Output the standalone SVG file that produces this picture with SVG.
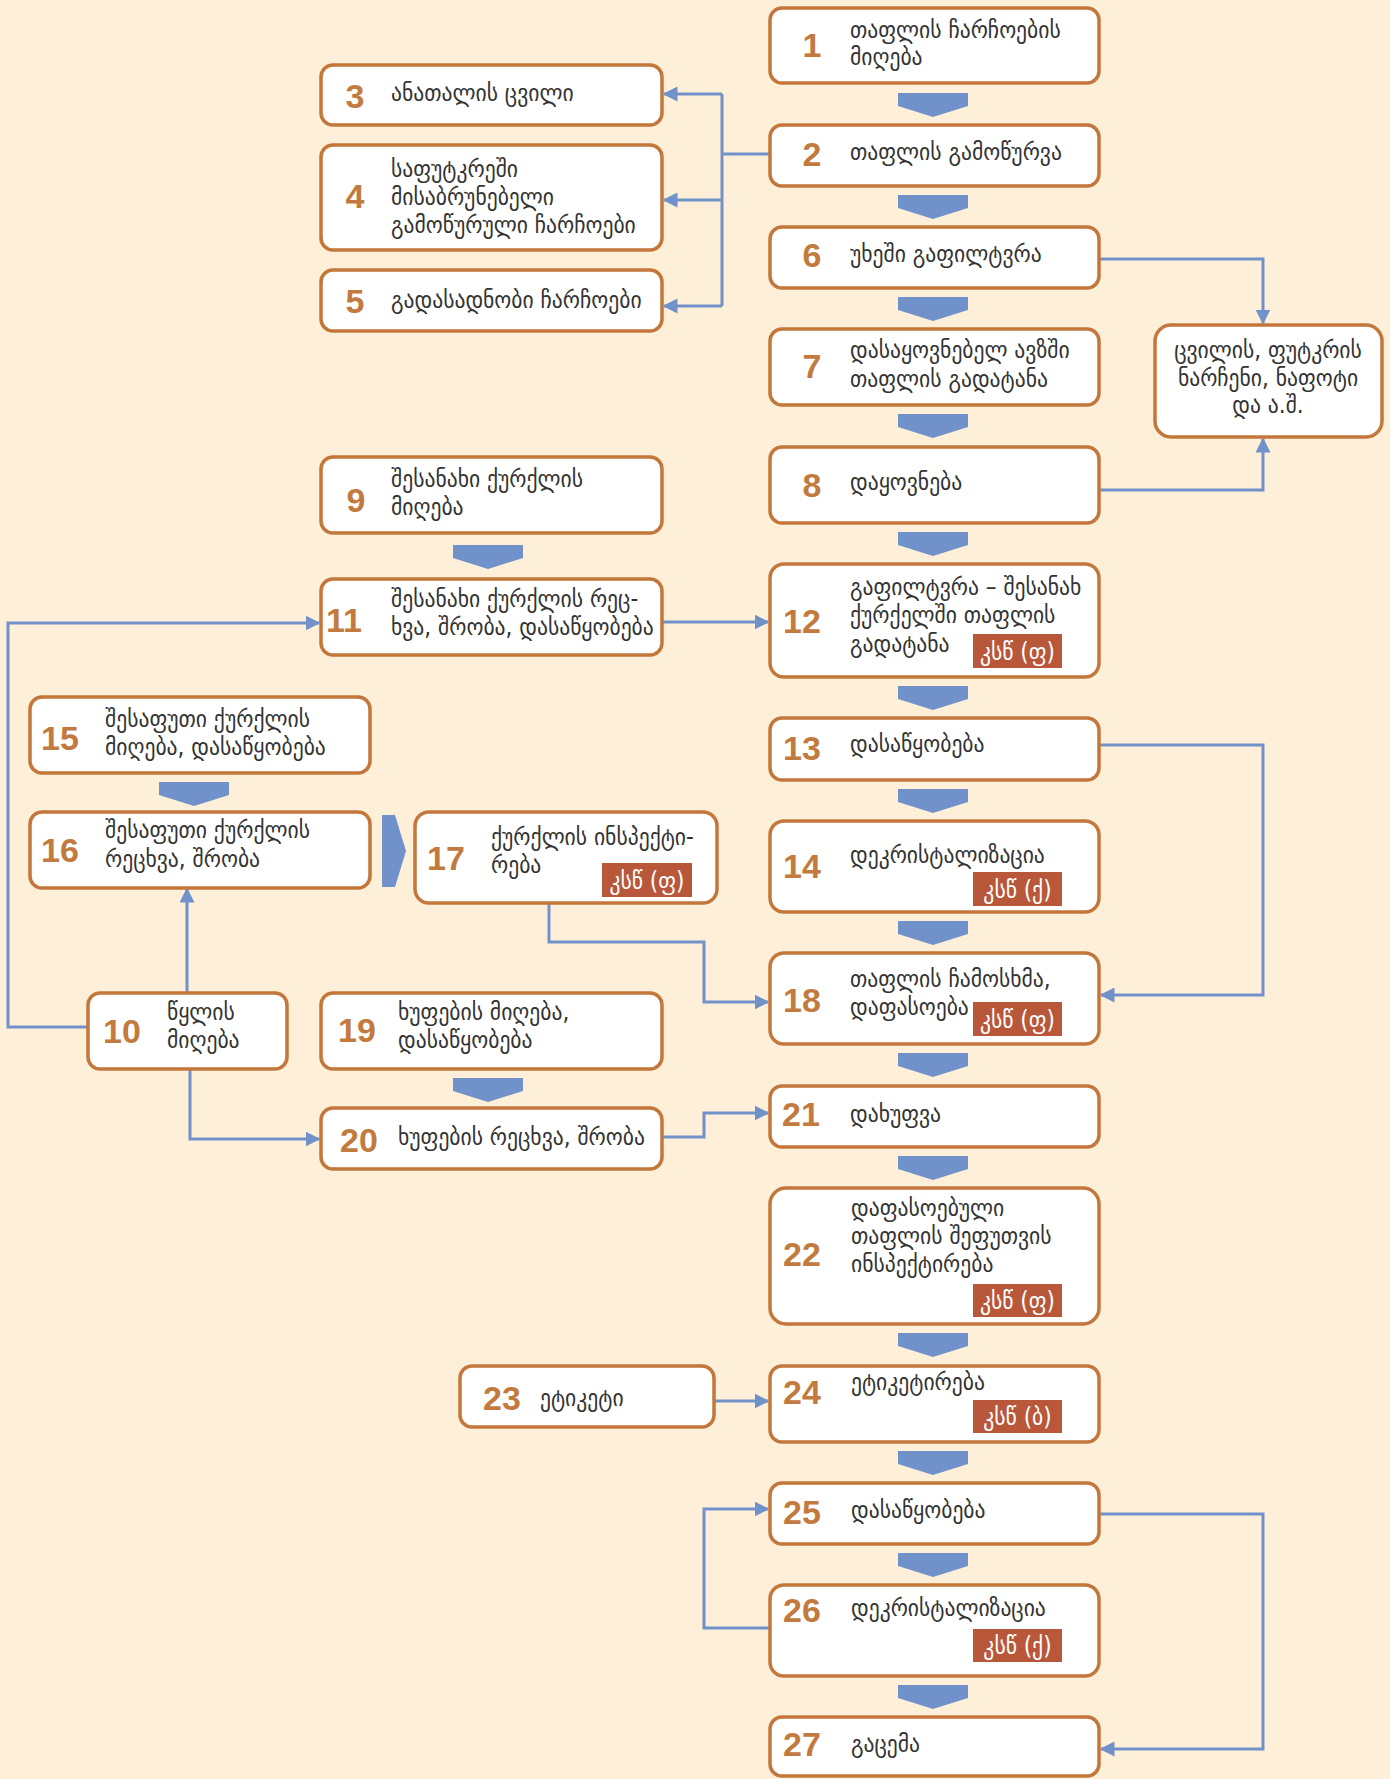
<svg xmlns="http://www.w3.org/2000/svg" width="1390" height="1779" viewBox="0 0 1390 1779">
<defs>
<style>
.box{fill:#fff;stroke:#C4773B;stroke-width:3.5}
.num{font-family:"Liberation Sans",Arial,sans-serif;font-weight:bold;font-size:34px;fill:#C27A3E;text-anchor:middle}
.t{font-family:"DejaVu Sans Condensed","DejaVu Sans",sans-serif;font-size:24px;fill:#333}
.tc{text-anchor:middle}
.badge{fill:#B8573A}
.bt{font-family:"DejaVu Sans Condensed","DejaVu Sans",sans-serif;font-size:24px;fill:#fff;text-anchor:middle}
.chev{fill:#7091C9}
.conn{fill:none;stroke:#7091C9;stroke-width:3}
.arr{marker-end:url(#ah)}
</style>
<marker id="ah" viewBox="0 0 10 10" refX="9" refY="5" markerWidth="5" markerHeight="5" orient="auto" markerUnits="strokeWidth">
<path d="M0,0 L10,5 L0,10 z" fill="#7091C9"/>
</marker>
<polygon id="cd" points="-35,0 35,0 35,13 0,24 -35,13"/>
</defs>
<rect width="1390" height="1779" fill="#FEF0D8"/>

<g id="connectors">
<path class="conn" d="M770,154 H722 M722,94 V306"/>
<path class="conn arr" d="M722,94 H664"/>
<path class="conn arr" d="M722,200 H664"/>
<path class="conn arr" d="M722,306 H664"/>
<path class="conn arr" d="M1099,259 H1263 V323"/>
<path class="conn arr" d="M1099,490 H1263 V439"/>
<path class="conn arr" d="M662,622 H768"/>
<path class="conn arr" d="M88,1027 H8 V623 H319"/>
<path class="conn arr" d="M187,993 V889"/>
<path class="conn arr" d="M190,1069 V1139 H319"/>
<path class="conn arr" d="M549,903 V942 H704 V1002 H768"/>
<path class="conn arr" d="M662,1137 H704 V1113 H768"/>
<path class="conn arr" d="M1099,745 H1263 V995 H1101"/>
<path class="conn arr" d="M714,1401 H768"/>
<path class="conn arr" d="M770,1628 H704 V1509 H768"/>
<path class="conn arr" d="M1099,1514 H1263 V1749 H1101"/>
<g class="chev">
<use href="#cd" x="933" y="93"/>
<use href="#cd" x="933" y="195"/>
<use href="#cd" x="933" y="297"/>
<use href="#cd" x="933" y="414"/>
<use href="#cd" x="933" y="532"/>
<use href="#cd" x="933" y="686"/>
<use href="#cd" x="933" y="789"/>
<use href="#cd" x="933" y="921"/>
<use href="#cd" x="933" y="1053"/>
<use href="#cd" x="933" y="1156"/>
<use href="#cd" x="933" y="1333"/>
<use href="#cd" x="933" y="1451"/>
<use href="#cd" x="933" y="1553"/>
<use href="#cd" x="933" y="1685"/>
<use href="#cd" x="488" y="545"/>
<use href="#cd" x="194" y="782"/>
<use href="#cd" x="488" y="1078"/>
<polygon points="382,815 395,815 406,851 395,887 382,887"/>
</g>
</g>

<g id="n1"><rect class="box" x="770" y="8" width="329" height="75" rx="12"/><text class="num" x="812" y="57">1</text><text class="t" x="850" y="38">თაფლის ჩარჩოების</text><text class="t" x="850" y="65">მიღება</text></g>
<g id="n2"><rect class="box" x="770" y="125" width="329" height="61" rx="12"/><text class="num" x="812" y="166">2</text><text class="t" x="850" y="160">თაფლის გამოწურვა</text></g>
<g id="n3"><rect class="box" x="321" y="65" width="341" height="60" rx="12"/><text class="num" x="355" y="108">3</text><text class="t" x="391" y="101">ანათალის ცვილი</text></g>
<g id="n4"><rect class="box" x="321" y="145" width="341" height="105" rx="12"/><text class="num" x="355" y="208">4</text><text class="t" x="391" y="177">საფუტკრეში</text><text class="t" x="391" y="205">მისაბრუნებელი</text><text class="t" x="391" y="233">გამოწურული ჩარჩოები</text></g>
<g id="n5"><rect class="box" x="321" y="270" width="341" height="61" rx="12"/><text class="num" x="355" y="313">5</text><text class="t" x="391" y="308">გადასადნობი ჩარჩოები</text></g>
<g id="n6"><rect class="box" x="770" y="227" width="329" height="61" rx="12"/><text class="num" x="812" y="267">6</text><text class="t" x="850" y="262">უხეში გაფილტვრა</text></g>
<g id="n7"><rect class="box" x="770" y="329" width="329" height="76" rx="12"/><text class="num" x="812" y="378">7</text><text class="t" x="850" y="358">დასაყოვნებელ ავზში</text><text class="t" x="850" y="387">თაფლის გადატანა</text></g>
<g id="n8"><rect class="box" x="770" y="447" width="329" height="76" rx="12"/><text class="num" x="812" y="497">8</text><text class="t" x="850" y="490">დაყოვნება</text></g>
<g id="waste"><rect class="box" x="1155" y="325" width="227" height="112" rx="16"/><text class="t tc" x="1268" y="358">ცვილის, ფუტკრის</text><text class="t tc" x="1268" y="386">ნარჩენი, ნაფოტი</text><text class="t tc" x="1268" y="413">და ა.შ.</text></g>
<g id="n9"><rect class="box" x="321" y="457" width="341" height="76" rx="12"/><text class="num" x="356" y="512">9</text><text class="t" x="391" y="487">შესანახი ქურქლის</text><text class="t" x="391" y="515">მიღება</text></g>
<g id="n11"><rect class="box" x="321" y="579" width="341" height="76" rx="12"/><text class="num" x="344" y="632">11</text><text class="t" x="391" y="607">შესანახი ქურქლის რეც-</text><text class="t" x="391" y="635">ხვა, შრობა, დასაწყობება</text></g>
<g id="n12"><rect class="box" x="770" y="564" width="329" height="113" rx="14"/><text class="num" x="802" y="633">12</text><text class="t" x="850" y="595">გაფილტვრა – შესანახ</text><text class="t" x="850" y="623">ქურქელში თაფლის</text><text class="t" x="850" y="652">გადატანა</text><rect class="badge" x="973" y="634" width="89" height="34"/><text class="bt" x="1017.5" y="660">კსწ (ფ)</text></g>
<g id="n13"><rect class="box" x="770" y="718" width="329" height="62" rx="12"/><text class="num" x="802" y="760">13</text><text class="t" x="850" y="752">დასაწყობება</text></g>
<g id="n14"><rect class="box" x="770" y="821" width="329" height="91" rx="14"/><text class="num" x="802" y="878">14</text><text class="t" x="850" y="863">დეკრისტალიზაცია</text><rect class="badge" x="973" y="872" width="89" height="34"/><text class="bt" x="1017.5" y="898">კსწ (ქ)</text></g>
<g id="n15"><rect class="box" x="30" y="697" width="340" height="76" rx="12"/><text class="num" x="60" y="750">15</text><text class="t" x="105" y="727">შესაფუთი ქურქლის</text><text class="t" x="105" y="755">მიღება, დასაწყობება</text></g>
<g id="n16"><rect class="box" x="30" y="812" width="340" height="76" rx="12"/><text class="num" x="60" y="862">16</text><text class="t" x="105" y="838">შესაფუთი ქურქლის</text><text class="t" x="105" y="867">რეცხვა, შრობა</text></g>
<g id="n17"><rect class="box" x="415" y="812" width="302" height="91" rx="14"/><text class="num" x="446" y="870">17</text><text class="t" x="491" y="845">ქურქლის ინსპექტი-</text><text class="t" x="491" y="873">რება</text><rect class="badge" x="602" y="863" width="90" height="34"/><text class="bt" x="647" y="889">კსწ (ფ)</text></g>
<g id="n18"><rect class="box" x="770" y="953" width="329" height="91" rx="14"/><text class="num" x="802" y="1012">18</text><text class="t" x="850" y="987">თაფლის ჩამოსხმა,</text><text class="t" x="850" y="1015">დაფასოება</text><rect class="badge" x="973" y="1002" width="89" height="34"/><text class="bt" x="1017.5" y="1028">კსწ (ფ)</text></g>
<g id="n10"><rect class="box" x="88" y="993" width="199" height="76" rx="12"/><text class="num" x="122" y="1043">10</text><text class="t" x="167" y="1020">წყლის</text><text class="t" x="167" y="1048">მიღება</text></g>
<g id="n19"><rect class="box" x="321" y="993" width="341" height="76" rx="12"/><text class="num" x="357" y="1042">19</text><text class="t" x="398" y="1020">ხუფების მიღება,</text><text class="t" x="398" y="1048">დასაწყობება</text></g>
<g id="n20"><rect class="box" x="321" y="1108" width="341" height="61" rx="12"/><text class="num" x="359" y="1152">20</text><text class="t" x="398" y="1145">ხუფების რეცხვა, შრობა</text></g>
<g id="n21"><rect class="box" x="770" y="1086" width="329" height="61" rx="12"/><text class="num" x="801" y="1126">21</text><text class="t" x="850" y="1122">დახუფვა</text></g>
<g id="n22"><rect class="box" x="770" y="1188" width="329" height="136" rx="16"/><text class="num" x="802" y="1266">22</text><text class="t" x="851" y="1216">დაფასოებული</text><text class="t" x="851" y="1244">თაფლის შეფუთვის</text><text class="t" x="851" y="1272">ინსპექტირება</text><rect class="badge" x="973" y="1284" width="89" height="33"/><text class="bt" x="1017.5" y="1309">კსწ (ფ)</text></g>
<g id="n23"><rect class="box" x="460" y="1366" width="254" height="61" rx="12"/><text class="num" x="502" y="1410">23</text><text class="t" x="540" y="1406">ეტიკეტი</text></g>
<g id="n24"><rect class="box" x="770" y="1366" width="329" height="76" rx="12"/><text class="num" x="802" y="1404">24</text><text class="t" x="851" y="1390">ეტიკეტირება</text><rect class="badge" x="973" y="1400" width="89" height="33"/><text class="bt" x="1017.5" y="1425">კსწ (ბ)</text></g>
<g id="n25"><rect class="box" x="770" y="1483" width="329" height="61" rx="12"/><text class="num" x="802" y="1524">25</text><text class="t" x="851" y="1518">დასაწყობება</text></g>
<g id="n26"><rect class="box" x="770" y="1585" width="329" height="91" rx="14"/><text class="num" x="802" y="1622">26</text><text class="t" x="851" y="1616">დეკრისტალიზაცია</text><rect class="badge" x="973" y="1629" width="89" height="33"/><text class="bt" x="1017.5" y="1654">კსწ (ქ)</text></g>
<g id="n27"><rect class="box" x="770" y="1717" width="329" height="59" rx="12"/><text class="num" x="802" y="1756">27</text><text class="t" x="851" y="1752">გაცემა</text></g>
</svg>
